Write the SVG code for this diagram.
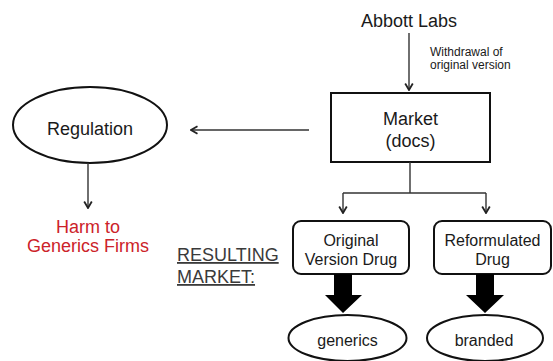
<svg xmlns="http://www.w3.org/2000/svg" width="553" height="361" viewBox="0 0 553 361">
<style>
  .t { font-family: "Liberation Sans", Arial, sans-serif; fill: #1a1a1a; text-anchor: middle; }
  .shape { fill: #fff; stroke: #111; stroke-width: 2; }
  .conn { stroke: #333; stroke-width: 1.4; fill: none; }
  .big { fill: #000; stroke: none; }
</style>
<defs>
  <marker id="chev" viewBox="0 0 10 10" refX="9" refY="5" markerWidth="10" markerHeight="10" orient="auto" markerUnits="userSpaceOnUse">
    <path d="M2.5,1.2 L9,5 L2.5,8.8" fill="none" stroke="#222" stroke-width="1.8"/>
  </marker>
</defs>
<rect width="553" height="361" fill="#fff"/>

<g id="abbott">
  <text class="t" x="409" y="27" font-size="18">Abbott Labs</text>
</g>
<g id="withdrawal-label">
  <text class="t" x="430" y="56" font-size="12" style="text-anchor:start" fill="#333">Withdrawal of</text>
  <text class="t" x="430" y="69" font-size="12" style="text-anchor:start" fill="#333">original version</text>
</g>
<g id="market">
  <rect class="shape" x="331" y="93" width="159" height="69"/>
  <text class="t" x="410.5" y="125" font-size="18">Market</text>
  <text class="t" x="410.5" y="147" font-size="18">(docs)</text>
</g>
<g id="regulation">
  <ellipse class="shape" cx="90" cy="125" rx="77" ry="38"/>
  <text class="t" x="90" y="135" font-size="18">Regulation</text>
</g>
<g id="harm">
  <text class="t" x="88" y="233" font-size="18" style="fill:#cc2229">Harm to</text>
  <text class="t" x="88" y="252" font-size="18" style="fill:#cc2229">Generics Firms</text>
</g>
<g id="resulting-market">
  <text class="t" x="177" y="261" font-size="18" style="text-anchor:start;fill:#3a3a3a" text-decoration="underline">RESULTING</text>
  <text class="t" x="177" y="283" font-size="18" style="text-anchor:start;fill:#3a3a3a" text-decoration="underline">MARKET:</text>
</g>
<g id="original">
  <rect class="shape" x="293" y="221" width="116" height="53" rx="8"/>
  <text class="t" x="351" y="246" font-size="16">Original</text>
  <text class="t" x="351" y="265" font-size="16">Version Drug</text>
</g>
<g id="reformulated">
  <rect class="shape" x="434" y="221" width="117" height="53" rx="8"/>
  <text class="t" x="492.5" y="246" font-size="16">Reformulated</text>
  <text class="t" x="492.5" y="265" font-size="16">Drug</text>
</g>
<g id="generics">
  <ellipse class="shape" cx="347.5" cy="338" rx="59" ry="23"/>
  <text class="t" x="347.5" y="346" font-size="16">generics</text>
</g>
<g id="branded">
  <ellipse class="shape" cx="485" cy="338" rx="58" ry="23"/>
  <text class="t" x="484" y="346" font-size="16">branded</text>
</g>

<g id="connectors">
  <line class="conn" x1="409" y1="33" x2="409" y2="90" marker-end="url(#chev)"/>
  <line class="conn" x1="309" y1="130" x2="191" y2="130" marker-end="url(#chev)"/>
  <line class="conn" x1="88" y1="163" x2="88" y2="208" marker-end="url(#chev)"/>
  <line class="conn" x1="410" y1="162" x2="410" y2="193"/>
  <line class="conn" x1="343" y1="193" x2="486" y2="193"/>
  <line class="conn" x1="343" y1="193" x2="343" y2="213" marker-end="url(#chev)"/>
  <line class="conn" x1="486" y1="193" x2="486" y2="213" marker-end="url(#chev)"/>
  <polygon class="big" points="334,274 352,274 352,295 362,295 343,313 325,295 334,295"/>
  <polygon class="big" points="476,274 494,274 494,295 504,295 485,313 466,295 476,295"/>
</g>
</svg>
